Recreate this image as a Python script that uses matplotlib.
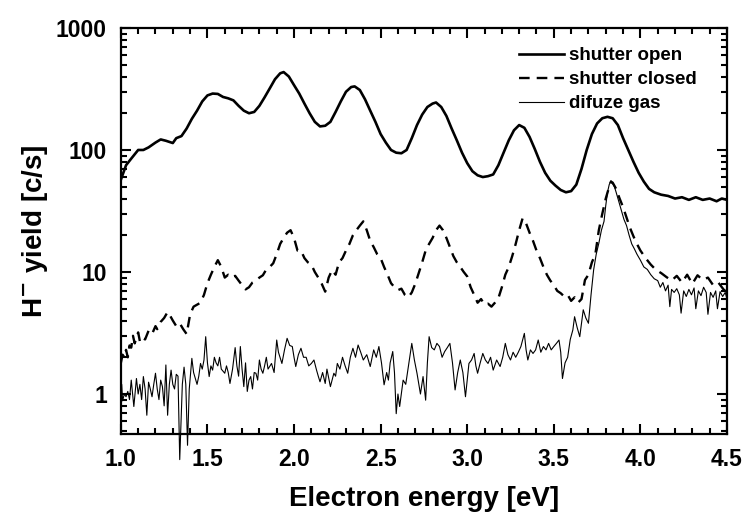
import matplotlib
matplotlib.use("Agg")
import matplotlib.pyplot as plt
from matplotlib.ticker import MultipleLocator, LogLocator, FuncFormatter, NullFormatter

plt.rcParams['font.family'] = ['Liberation Sans', 'DejaVu Sans']
plt.rcParams['font.weight'] = 'bold'
plt.rcParams['mathtext.default'] = 'bf'

# shutter open (thick solid)
open_e = [1.00, 1.03, 1.06, 1.10, 1.13, 1.16, 1.20, 1.23, 1.26, 1.30, 1.32, 1.35, 1.38, 1.41, 1.44,
          1.47, 1.50, 1.53, 1.56, 1.59, 1.62, 1.65, 1.68, 1.71, 1.74, 1.77, 1.80, 1.83, 1.86, 1.89,
          1.92, 1.94, 1.97, 2.00, 2.03, 2.06, 2.09, 2.12, 2.15, 2.18, 2.21, 2.24, 2.27, 2.30, 2.33,
          2.35, 2.38, 2.41, 2.44, 2.47, 2.50, 2.53, 2.56, 2.59, 2.62, 2.65, 2.68, 2.71, 2.74, 2.77,
          2.80, 2.82, 2.85, 2.88, 2.91, 2.94, 2.97, 3.00, 3.03, 3.06, 3.09, 3.12, 3.15, 3.18, 3.21,
          3.24, 3.27, 3.30, 3.33, 3.36, 3.39, 3.42, 3.45, 3.48, 3.51, 3.54, 3.57, 3.60, 3.63, 3.66,
          3.69, 3.72, 3.75, 3.78, 3.81, 3.84, 3.87, 3.90, 3.93, 3.96, 3.99, 4.02, 4.05, 4.08, 4.12,
          4.16, 4.20, 4.24, 4.28, 4.32, 4.36, 4.40, 4.44, 4.47, 4.50]
open_v = [57, 75, 85, 100, 100, 105, 115, 122, 119, 114, 125, 130, 150, 180, 210,
          250, 280, 290, 288, 272, 265, 255, 230, 210, 200, 205, 230, 270, 320, 380,
          425, 435, 400, 340, 290, 240, 200, 170, 156, 158, 170, 205, 250, 300, 328,
          332, 310, 260, 210, 170, 135, 115, 100, 95, 94, 100, 125, 160, 195, 225,
          240, 245, 225, 190, 150, 120, 95, 78, 67, 62, 60, 61, 63, 75, 95,
          120, 145, 160, 152, 128, 102, 80, 65, 56, 51, 47, 45, 46, 52, 70,
          100, 135, 165, 182, 187, 182, 160, 125, 100, 80, 65, 55, 48, 45, 43,
          42, 40, 41, 39, 41, 39, 40, 38, 40, 39]

# shutter closed (dashed)
closed_e = [1.00, 1.01, 1.02, 1.03, 1.04, 1.05, 1.06, 1.07, 1.08, 1.09, 1.10, 1.11, 1.12, 1.14, 1.16,
            1.18, 1.20, 1.21, 1.23, 1.25, 1.27, 1.28, 1.30, 1.32, 1.34, 1.36, 1.38, 1.40, 1.42, 1.44,
            1.46, 1.48, 1.50, 1.52, 1.54, 1.56, 1.58, 1.60, 1.62, 1.64, 1.66, 1.68, 1.70, 1.72, 1.74,
            1.76, 1.78, 1.80, 1.82, 1.84, 1.86, 1.88, 1.90, 1.92, 1.94, 1.96, 1.98, 2.00, 2.02, 2.04,
            2.06, 2.08, 2.10, 2.12, 2.14, 2.16, 2.18, 2.20, 2.22, 2.24, 2.26, 2.28, 2.30, 2.32, 2.34,
            2.36, 2.38, 2.40, 2.42, 2.44, 2.46, 2.48, 2.50, 2.52, 2.54, 2.56, 2.58, 2.60, 2.62, 2.64,
            2.66, 2.68, 2.70, 2.72, 2.74, 2.76, 2.78, 2.80, 2.82, 2.84, 2.86, 2.88, 2.90, 2.92, 2.94,
            2.96, 2.98, 3.00, 3.02, 3.04, 3.06, 3.08, 3.10, 3.12, 3.14, 3.16, 3.18, 3.20, 3.22, 3.24,
            3.26, 3.28, 3.30, 3.32, 3.34, 3.36, 3.38, 3.40, 3.42, 3.44, 3.46, 3.48, 3.50, 3.52, 3.54,
            3.56, 3.58, 3.60, 3.62, 3.64, 3.66, 3.68, 3.70, 3.72, 3.74, 3.76, 3.78, 3.80, 3.82, 3.83,
            3.84, 3.86, 3.88, 3.90, 3.92, 3.94, 3.96, 3.98, 4.00, 4.03, 4.06, 4.09, 4.12, 4.15, 4.18,
            4.21, 4.24, 4.27, 4.30, 4.33, 4.36, 4.39, 4.42, 4.45, 4.48, 4.50]
closed_v = [1.8, 2.1, 2.0, 2.3, 2.0, 2.5, 2.4, 3.0, 2.6, 2.9, 3.2, 2.7, 2.9, 2.8, 3.3,
            3.1, 3.6, 3.4, 3.9, 4.2, 4.7, 4.5, 4.0, 3.6, 3.8, 3.4, 3.1, 4.5, 5.2, 5.4,
            5.6, 6.5, 8.1, 9.5, 11, 12.5, 11, 9.0, 9.5, 9.0, 9.3, 8.5, 7.8, 7.2, 7.5,
            8.2, 8.5, 9.0, 9.4, 10.5, 11, 11.8, 14, 17, 19, 21, 22, 19, 15, 15,
            13, 12, 11.5, 10, 9.0, 8.0, 6.9, 9.0, 10.4, 9.5, 12, 13, 15, 17, 20,
            22, 24, 26, 22, 18, 16, 14, 13, 11, 9.5, 8.1, 7.5, 7.1, 7.3, 6.5,
            6.2, 6.8, 8.0, 9.8, 12, 15, 17, 19, 22, 24, 22, 19, 16, 13.5, 12,
            11, 10, 9.2, 7.5, 6.5, 5.6, 6.0, 5.4, 5.5, 5.2, 5.6, 6.1, 7.5, 9.5, 11,
            13.5, 17, 22, 27.6, 25, 21, 18, 15, 13, 11, 9.5, 8.5, 7.8, 7.0, 6.7,
            6.3, 6.5, 5.8, 6.2, 5.6, 6.0, 8.6, 9.5, 12, 14, 22, 30, 40, 50, 55,
            54, 48, 40, 34, 28, 23, 19.6, 17, 15, 13, 11.5, 10.4, 9.8, 9.1, 8.5,
            9.3, 8.2, 9.5, 8.0, 9.4, 8.6, 9.0, 7.8, 8.2, 7.2, 6.8]

# difuze gas (thin solid)
gas_e = [1.00, 1.005, 1.01, 1.02, 1.03, 1.04, 1.05, 1.06, 1.075, 1.09, 1.10, 1.11, 1.12, 1.13, 1.14,
         1.15, 1.16, 1.17, 1.18, 1.19, 1.20, 1.21, 1.22, 1.23, 1.24, 1.25, 1.26, 1.27, 1.28, 1.29,
         1.30, 1.31, 1.32, 1.33, 1.34, 1.355, 1.365, 1.375, 1.385, 1.395, 1.41, 1.42, 1.44, 1.45, 1.46,
         1.47, 1.48, 1.49, 1.50, 1.51, 1.52, 1.53, 1.54, 1.55, 1.56, 1.57, 1.58, 1.60, 1.61, 1.62,
         1.63, 1.645, 1.66, 1.67, 1.68, 1.69, 1.70, 1.71, 1.72, 1.73, 1.74, 1.75, 1.76, 1.77, 1.78,
         1.79, 1.80, 1.81, 1.82, 1.83, 1.84, 1.85, 1.87, 1.885, 1.90, 1.91, 1.93, 1.945, 1.96, 1.975,
         1.99, 2.00, 2.01, 2.025, 2.04, 2.055, 2.07, 2.085, 2.10, 2.115, 2.13, 2.14, 2.15, 2.165, 2.18,
         2.19, 2.21, 2.22, 2.23, 2.24, 2.25, 2.265, 2.28, 2.295, 2.31, 2.325, 2.34, 2.355, 2.37, 2.385,
         2.40, 2.42, 2.44, 2.46, 2.475, 2.49, 2.505, 2.52, 2.535, 2.545, 2.555, 2.57, 2.58, 2.59, 2.60,
         2.61, 2.63, 2.645, 2.66, 2.68, 2.695, 2.71, 2.73, 2.745, 2.76, 2.77, 2.78, 2.795, 2.81, 2.825,
         2.84, 2.855, 2.87, 2.885, 2.90, 2.915, 2.93, 2.945, 2.96, 2.975, 2.99, 3.01, 3.025, 3.04, 3.05,
         3.06, 3.075, 3.09, 3.105, 3.12, 3.135, 3.15, 3.17, 3.19, 3.205, 3.22, 3.235, 3.25, 3.265, 3.28,
         3.295, 3.31, 3.33, 3.34, 3.35, 3.365, 3.38, 3.395, 3.41, 3.425, 3.44, 3.455, 3.47, 3.485, 3.50,
         3.515, 3.53, 3.54, 3.55, 3.565, 3.58, 3.595, 3.61, 3.62, 3.635, 3.65, 3.67, 3.685, 3.70, 3.715,
         3.73, 3.745, 3.76, 3.775, 3.79, 3.80, 3.81, 3.82, 3.83, 3.84, 3.85, 3.86, 3.875, 3.89, 3.905,
         3.92, 3.935, 3.95, 3.965, 3.98, 4.00, 4.02, 4.04, 4.06, 4.08, 4.10, 4.115, 4.13, 4.145, 4.16,
         4.17, 4.18, 4.195, 4.21, 4.225, 4.235, 4.25, 4.265, 4.28, 4.295, 4.31, 4.32, 4.335, 4.35, 4.365,
         4.38, 4.39, 4.405, 4.42, 4.435, 4.445, 4.46, 4.475, 4.49, 4.50]
gas_v = [0.95, 1.2, 0.88, 1.0, 0.95, 1.05, 0.9, 1.3, 0.79, 1.34, 1.0, 1.2, 0.9, 1.39, 1.1,
         0.67, 1.25, 1.1, 0.95, 1.2, 1.48, 1.1, 0.9, 1.3, 1.15, 0.8, 1.73, 0.67, 1.2, 1.57,
         1.2, 1.1, 1.45, 1.4, 0.29, 1.2, 1.66, 1.2, 0.38, 1.1, 1.96, 1.5, 1.2, 1.4, 1.78,
         1.6, 1.9, 2.95, 1.8, 1.39, 1.7, 1.57, 2.0, 1.8, 1.7, 2.0, 1.6, 1.48, 1.7, 1.5,
         1.22, 1.6, 2.4, 1.7, 1.4, 2.45, 1.6, 1.15, 1.8, 1.05, 1.3, 1.39, 1.1, 1.5, 1.48,
         1.3, 1.9, 1.6, 1.48, 1.7, 2.0, 1.6, 1.78, 1.5, 2.77, 2.2, 1.78, 2.3, 2.86, 2.5,
         2.45, 2.0, 1.68, 2.1, 2.37, 2.0, 2.0, 1.7, 1.78, 1.9, 1.57, 1.4, 1.26, 1.5, 1.22,
         1.6, 1.15, 1.3, 1.48, 1.4, 1.78, 1.6, 2.0, 1.7, 1.48, 2.0, 2.37, 2.0, 2.52, 2.2,
         1.9, 2.1, 1.68, 2.3, 2.0, 2.45, 1.8, 1.19, 1.5, 1.3, 1.8, 2.23, 1.5, 0.69, 1.0,
         0.79, 1.3, 1.2, 1.68, 2.6, 1.9, 1.48, 1.0, 1.39, 0.89, 1.8, 2.95, 2.4, 2.3, 2.6,
         2.45, 2.0, 2.23, 2.4, 2.6, 1.8, 1.08, 1.5, 1.9, 1.5, 0.95, 1.78, 1.9, 2.15, 1.7,
         1.48, 1.8, 2.15, 1.9, 1.78, 2.0, 1.57, 1.9, 1.68, 2.0, 2.6, 2.1, 1.9, 2.2, 2.0,
         2.2, 2.45, 3.14, 2.3, 1.9, 2.3, 2.15, 2.3, 2.77, 2.2, 2.45, 2.3, 2.6, 2.3, 2.45,
         2.6, 2.77, 2.2, 1.34, 1.8, 2.0, 2.8, 3.35, 4.3, 3.5, 2.95, 4.9, 4.2, 3.8, 6.5,
         10.4, 14, 17.2, 22, 26, 35, 45, 52, 56, 53, 50, 45, 38, 32, 27,
         24, 20, 17, 15.5, 14, 12.5, 11, 10.5, 9.5, 8.8, 8.5, 7.5, 8.2, 7.0, 7.8,
         5.2, 7.2, 6.8, 7.3, 6.5, 4.6, 7.0, 6.3, 7.2, 6.5, 7.4, 5.0, 7.0, 6.4, 7.5,
         6.8, 4.5, 6.8, 6.2, 7.0, 5.0, 6.9, 6.3, 6.8, 6.0]

x_ticks = [1.0, 1.5, 2.0, 2.5, 3.0, 3.5, 4.0, 4.5]
y_ticks = [1, 10, 100, 1000]

fig = plt.figure(figsize=(7.46, 5.14), dpi=100)
ax = fig.add_axes([0.162, 0.1556, 0.8125, 0.79])

ax.plot(open_e, open_v, color='black', lw=1.9, label='shutter open')
ax.plot(closed_e, closed_v, color='black', lw=1.7, ls=(0, (4.5, 3.0)), label='shutter closed')
ax.plot(gas_e, gas_v, color='black', lw=0.8, label='difuze gas', clip_on=False)

ax.set_yscale('log')
ax.set_xlim(1.0, 4.5)
ax.set_ylim(0.47, 1000)
ax.set_xticks(x_ticks)
ax.xaxis.set_minor_locator(MultipleLocator(0.1))
ax.set_yticks(y_ticks)
ax.yaxis.set_minor_locator(LogLocator(base=10, subs=[2, 3, 4, 5, 6, 7, 8, 9]))
ax.yaxis.set_minor_formatter(NullFormatter())
ax.xaxis.set_major_formatter(FuncFormatter(lambda v, p: f"{v:.1f}"))
ax.yaxis.set_major_formatter(FuncFormatter(lambda v, p: f"{int(round(v))}"))

ax.tick_params(which='both', direction='in', top=True, right=True, width=1.5)
ax.tick_params(which='major', length=7, labelsize=16.5, pad=10)
ax.tick_params(which='minor', length=4)
for lab in ax.get_xticklabels() + ax.get_yticklabels():
    lab.set_fontweight('bold')
for s in ax.spines.values():
    s.set_linewidth(1.6)

ax.set_xlabel('Electron energy [eV]', fontsize=20, fontweight='bold', labelpad=11)
ax.set_ylabel(r'H$^{\mathbf{-}}$ yield [c/s]', fontsize=20, fontweight='bold', labelpad=4)

leg = ax.legend(loc='upper right', bbox_to_anchor=(0.963, 0.971), frameon=False,
                handlelength=2.4, handletextpad=0.28, labelspacing=0.37, borderaxespad=0.0,
                borderpad=0.4, prop={'weight': 'bold', 'size': 13.5})

fig.savefig('out.png', dpi=100)
